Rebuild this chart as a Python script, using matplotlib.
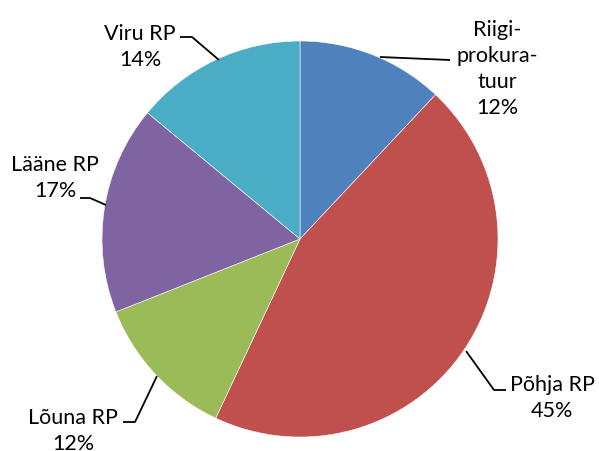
import matplotlib.pyplot as plt

labels = ['Riigi-\nprokura-\ntuur', 'Põhja RP', 'Lõuna RP', 'Lääne RP', 'Viru RP']
shares = [12, 45, 12, 17, 14]
colors = ['#4F81BD', '#C0504D', '#9BBB59', '#8064A2', '#4BACC6']

W, H = 599, 452
fig = plt.figure(figsize=(W / 100, H / 100), dpi=100)
ax = fig.add_axes([0, 0, 1, 1])

# pie center / radius in pixel coords (y down); pie drawn with y flipped so
# go counterclockwise in data -> clockwise on screen
cx, cy, r = 300, 240, 198
ax.pie(shares, colors=colors, startangle=-90, counterclock=True,
       center=(cx, cy), radius=r, frame=True,
       wedgeprops=dict(edgecolor='white', linewidth=0.4))
ax.set_xlim(0, W)
ax.set_ylim(H, 0)
ax.set_aspect('equal')
ax.axis('off')

# label text positions (block centers) and leader lines
text_pos = [(497, 69), (552, 398), (73, 431), (55, 178), (140, 47)]
leaders = [
    [(380, 58), (450, 61)],
    [(466, 352), (494, 391), (506, 391)],
    [(157, 377), (135, 423), (123, 423)],
    [(80, 199), (90, 199), (106, 206)],
    [(180, 38), (192, 38), (219, 61)],
]

for lab, val, (tx, ty), pts in zip(labels, shares, text_pos, leaders):
    ax.text(tx, ty, f'{lab}\n{val}%', ha='center', va='center',
            fontsize=15.5, family='Lato', linespacing=1.38, color='black')
    xs = [p[0] for p in pts]
    ys = [p[1] for p in pts]
    ax.plot(xs, ys, color='black', linewidth=1.3, solid_capstyle='butt')

fig.savefig('out.png', dpi=100)
